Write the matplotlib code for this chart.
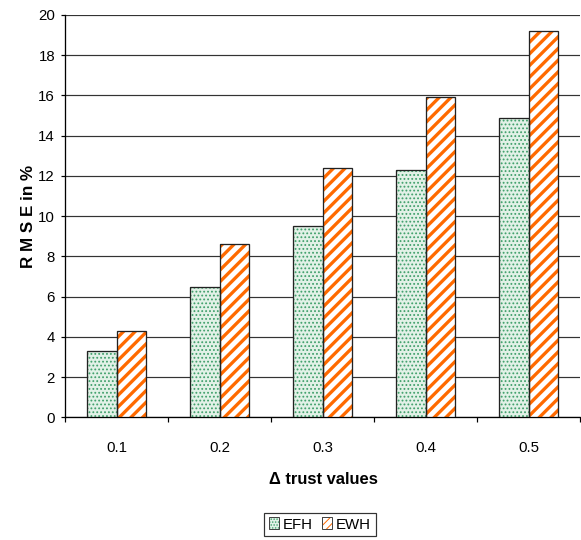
import matplotlib
matplotlib.use("Agg")
import matplotlib.pyplot as plt
from matplotlib.patches import Patch
from matplotlib.legend_handler import HandlerTuple
import numpy as np

# data
categories = ["0.1", "0.2", "0.3", "0.4", "0.5"]
efh = [3.3, 6.5, 9.5, 12.3, 14.9]
ewh = [4.3, 8.6, 12.4, 15.9, 19.2]
series_names = ["EFH", "EWH"]
yticks = [0, 2, 4, 6, 8, 10, 12, 14, 16, 18, 20]

DPI = 70
plt.rcParams['font.family'] = ['Liberation Sans', 'DejaVu Sans']

def px(v):
    """pixel size -> points at the figure dpi"""
    return v * 72.0 / DPI

W, H = 581, 540
fig = plt.figure(figsize=(W / DPI, H / DPI), dpi=DPI)
ax = fig.add_axes([65 / W, 122.7 / H, 515 / W, 402.3 / H])

x = np.arange(len(categories))
w = 0.287

green_face = "#e2f1e7"
green_dot = "#3f9f6a"
orange = "#ff6a00"
edge = "#222222"

# EFH: dotted green fill
with plt.rc_context({'hatch.linewidth': 1.2}):
    ax.bar(x - w / 2, efh, w, color=green_face, edgecolor=green_dot,
           linewidth=0, hatch='...', zorder=3)
ax.bar(x - w / 2, efh, w, fill=False, edgecolor=edge, linewidth=px(1.3), zorder=4)

# EWH: orange diagonal stripes
with plt.rc_context({'hatch.linewidth': px(3.3)}):
    ax.bar(x + w / 2, ewh, w, color="white", edgecolor=orange,
           linewidth=0, hatch='//', zorder=3)
ax.bar(x + w / 2, ewh, w, fill=False, edgecolor=edge, linewidth=px(1.3), zorder=4)

ax.set_xlim(-0.5, len(categories) - 0.5)
ax.set_ylim(0, 20)
ax.set_yticks(yticks)
ax.set_yticklabels([str(t) for t in yticks])
ax.set_xticks(x)
ax.set_xticklabels(categories)
ax.set_xticks(np.arange(len(categories) + 1) - 0.5, minor=True)

ax.tick_params(axis='y', direction='out', length=px(4), width=px(1.2),
               labelsize=px(15), pad=px(6), colors='black')
ax.tick_params(axis='x', which='major', length=0, labelsize=px(15), pad=px(24))
ax.tick_params(axis='x', which='minor', direction='out', length=px(5), width=px(1.2))

ax.yaxis.grid(True, color="#333333", linewidth=px(1.2), zorder=0)
ax.set_axisbelow(True)

for s in ["top", "right"]:
    ax.spines[s].set_visible(False)
for s in ["left", "bottom"]:
    ax.spines[s].set_linewidth(px(1.3))
    ax.spines[s].set_color("black")

ax.set_ylabel("R M S E in %", fontsize=px(17), fontweight='bold')
ax.yaxis.set_label_coords(-29 / 515, 0.5)
fig.text(323 / W, 1 - 484 / H, "\u0394 trust values", fontsize=px(16.5),
         fontweight='bold', ha='center', va='baseline')

# legend swatches: hatched fill plus a thin dark outline, drawn on top of each other
with plt.rc_context({'hatch.linewidth': 1.0}):
    f1 = Patch(facecolor=green_face, edgecolor=green_dot, linewidth=0, hatch='....')
with plt.rc_context({'hatch.linewidth': px(3.0)}):
    f2 = Patch(facecolor="white", edgecolor=orange, linewidth=0, hatch='///')
o1 = Patch(fill=False, edgecolor="#444444", linewidth=px(1))
o2 = Patch(fill=False, edgecolor="#444444", linewidth=px(1))
leg = fig.legend([(f1, o1), (f2, o2)], series_names, loc='center',
                 bbox_to_anchor=(320 / W, 1 - 524.5 / H),
                 handler_map={tuple: HandlerTuple(ndivide=1, pad=0)},
                 ncol=2, frameon=True, fancybox=False, fontsize=px(15),
                 handlelength=0.7, handleheight=0.85, handletextpad=0.25,
                 columnspacing=0.6, borderpad=0.3, borderaxespad=0)
leg.get_frame().set_edgecolor("black")
leg.get_frame().set_linewidth(px(1.2))

fig.savefig("out.png", dpi=DPI)
